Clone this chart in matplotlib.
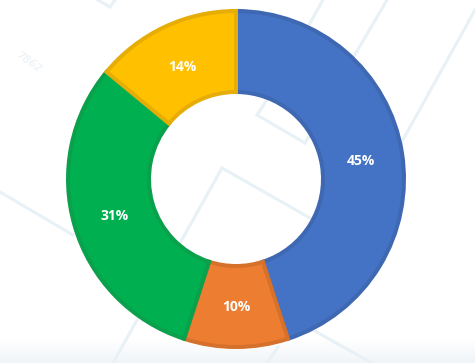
import numpy as np
import matplotlib
matplotlib.use('Agg')
import matplotlib.pyplot as plt
from matplotlib.colors import LinearSegmentedColormap

values = [45, 10, 31, 14]
colors = ['#4472C4', '#ED7D31', '#00B050', '#FFC000']
edges = ['#3F68B2', '#D6712C', '#0AA04C', '#E6AD06']

# pale map lines behind the chart, in pixels of the picture
bg_lines = [
    [(323, 0), (296, 48)],
    [(387, 0), (340, 80)],
    [(475, 10), (400, 145)],
    [(313, 130), (305, 143), (257, 115), (270, 95)],
    [(113, 363), (222, 168), (310, 218)],
    [(0, 192), (73, 235)],
    [(278, 347), (267, 363)],
    [(98, 0), (110, 7), (115, 0)],
    [(313, 330), (372, 363)],
]

fig = plt.figure(figsize=(4.75, 3.63), dpi=100, facecolor='white')

#--- background
bg = fig.add_axes([0, 0, 1, 1])
grad = np.linspace(0, 1, 50).reshape(-1, 1)
bg.imshow(grad, extent=(0, 475, 363, 338), aspect='auto', zorder=0,
          cmap=LinearSegmentedColormap.from_list('g', ['#ffffff', '#f1f5f8']))
bg.set_xlim(0, 475)
bg.set_ylim(363, 0)
bg.axis('off')
for line in bg_lines:
    bg.plot([p[0] for p in line], [p[1] for p in line], color='#e8f1f6', lw=2.2, zorder=1,
            solid_joinstyle='miter')
bg.text(29, 63, '7862', color='#e9f0f5', fontsize=8, rotation=-35, ha='center', va='center',
        style='italic')

#--- donut, pulled in by half a stroke so the border stays inside the 170px ring
stroke_px = 4
inset = stroke_px / 2 / 170
ax = fig.add_axes([66 / 475, (363 - 349) / 363, 340 / 475, 340 / 363])
ax.patch.set_alpha(0)
wedges, texts, pcts = ax.pie(values, colors=colors, startangle=90, counterclock=False,
                             radius=1 - inset, autopct='%d%%', pctdistance=0.75,
                             wedgeprops={'width': 0.5 - 2 * inset,
                                         'linewidth': stroke_px * 72 / 100})
ax.set_xlim(-1, 1)
ax.set_ylim(-1, 1)

for w, e in zip(wedges, edges):
    w.set_edgecolor(e)

for t in pcts:
    t.set_color('white')
    t.set_fontsize(10)
    t.set_fontweight('bold')
    t.set_family(['Open Sans', 'DejaVu Sans'])
    t.set_y(t.get_position()[1] - 2 / 170)

fig.savefig('out.png', dpi=100)
